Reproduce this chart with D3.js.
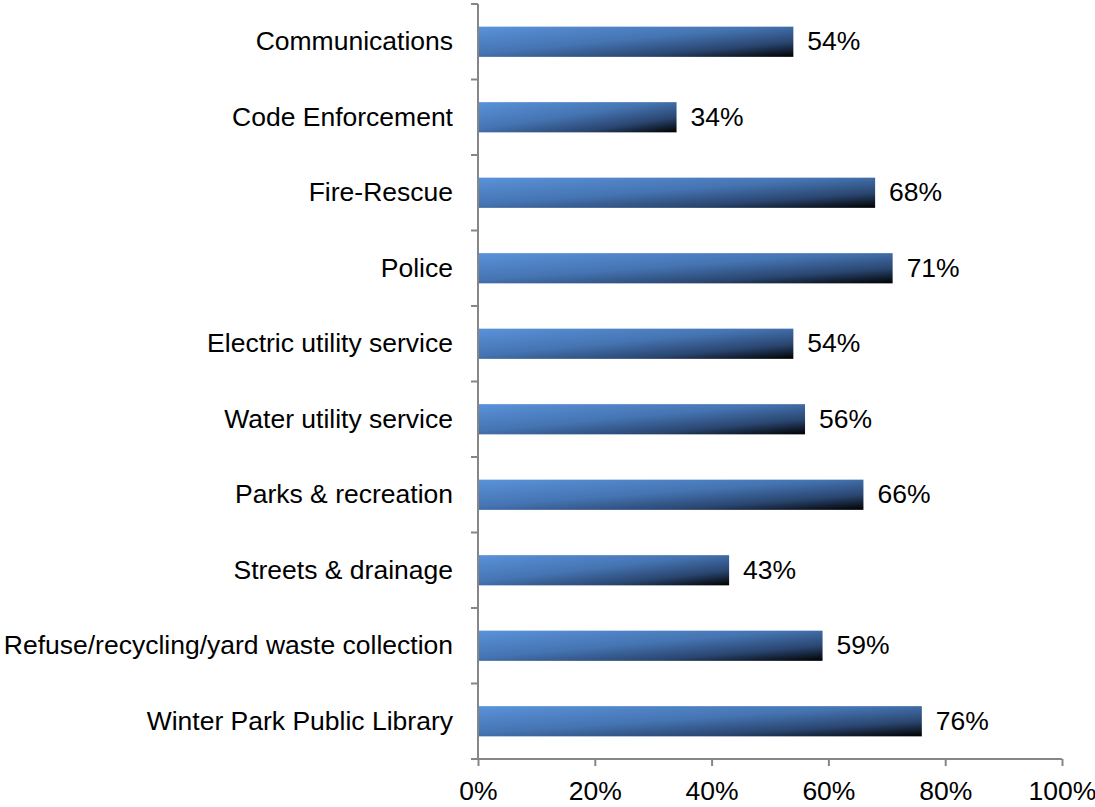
<!DOCTYPE html>
<html>
<head>
<meta charset="utf-8">
<script src="https://cdn.jsdelivr.net/npm/d3@7"></script>
<style>
  html, body { margin: 0; padding: 0; background: #fff; }
  svg { display: block; }
  text { font-family: "Liberation Sans", Arial, sans-serif; fill: #000; }
</style>
</head>
<body>
<svg id="chart" width="1095" height="807"></svg>
<script>
// Share of respondents rating each service, top to bottom
const categories = [
  "Communications",
  "Code Enforcement",
  "Fire-Rescue",
  "Police",
  "Electric utility service",
  "Water utility service",
  "Parks & recreation",
  "Streets & drainage",
  "Refuse/recycling/yard waste collection",
  "Winter Park Public Library"
];
const values = [54, 34, 68, 71, 54, 56, 66, 43, 59, 76];
const xTicks = [0, 20, 40, 60, 80, 100];

const svg = d3.select("#chart");
const margin = { left: 478, right: 33, top: 4, bottom: 48 };
const W = 1095, H = 807;
const axisColor = "#868686";
const fontSize = 26.5;

const x = d3.scaleLinear().domain([0, 100]).range([margin.left, W - margin.right]);
const y = d3.scaleBand().domain(categories).range([margin.top, H - margin.bottom])
  .paddingInner(0.6).paddingOuter(0.3);

// Blue-to-black bar fill
const defs = svg.append("defs");
const grad = defs.append("linearGradient")
  .attr("id", "barFill")
  .attr("x1", 0).attr("y1", 0).attr("x2", 1).attr("y2", 1);
grad.append("stop").attr("offset", 0).attr("stop-color", "#5a92da");
grad.append("stop").attr("offset", 0.45).attr("stop-color", "#4574b2");
grad.append("stop").attr("offset", 0.75).attr("stop-color", "#2a4670");
grad.append("stop").attr("offset", 1).attr("stop-color", "#000000");

// Bars
svg.append("g").selectAll("rect")
  .data(categories)
  .join("rect")
  .attr("x", x(0))
  .attr("y", d => y(d))
  .attr("width", (d, i) => x(values[i]) - x(0))
  .attr("height", y.bandwidth())
  .attr("fill", "url(#barFill)");

// Value labels
svg.append("g").selectAll("text")
  .data(categories)
  .join("text")
  .attr("x", (d, i) => x(values[i]) + 14)
  .attr("y", d => y(d) + y.bandwidth() / 2)
  .attr("dy", "0.33em")
  .attr("font-size", fontSize)
  .text((d, i) => values[i] + "%");

// Category axis with ticks between bands
const yAxisG = svg.append("g");
yAxisG.append("line")
  .attr("x1", x(0)).attr("x2", x(0))
  .attr("y1", margin.top).attr("y2", H - margin.bottom)
  .attr("stroke", axisColor).attr("stroke-width", 2);
const step = y.step();
const boundaries = d3.range(categories.length + 1).map(i => margin.top + i * step);
yAxisG.selectAll("line.tick")
  .data(boundaries)
  .join("line")
  .attr("class", "tick")
  .attr("x1", x(0) - 7).attr("x2", x(0))
  .attr("y1", d => d).attr("y2", d => d)
  .attr("stroke", axisColor).attr("stroke-width", 2);
yAxisG.selectAll("text")
  .data(categories)
  .join("text")
  .attr("x", x(0) - 25)
  .attr("y", d => y(d) + y.bandwidth() / 2)
  .attr("dy", "0.33em")
  .attr("text-anchor", "end")
  .attr("font-size", fontSize)
  .text(d => d);

// Percent axis
const xAxis = d3.axisBottom(x)
  .tickValues(xTicks)
  .tickSize(7)
  .tickPadding(15)
  .tickFormat(d => d + "%");
const xAxisG = svg.append("g")
  .attr("transform", `translate(0,${H - margin.bottom})`)
  .call(xAxis);
xAxisG.select(".domain").attr("stroke", axisColor).attr("stroke-width", 2)
  .attr("d", `M${x(0) - 7},0H${x(100)}`);
xAxisG.selectAll(".tick line").attr("stroke", axisColor).attr("stroke-width", 2);
xAxisG.selectAll(".tick text")
  .attr("font-size", fontSize)
  .attr("font-family", "Liberation Sans, Arial, sans-serif")
  .attr("fill", "#000");
</script>
</body>
</html>
